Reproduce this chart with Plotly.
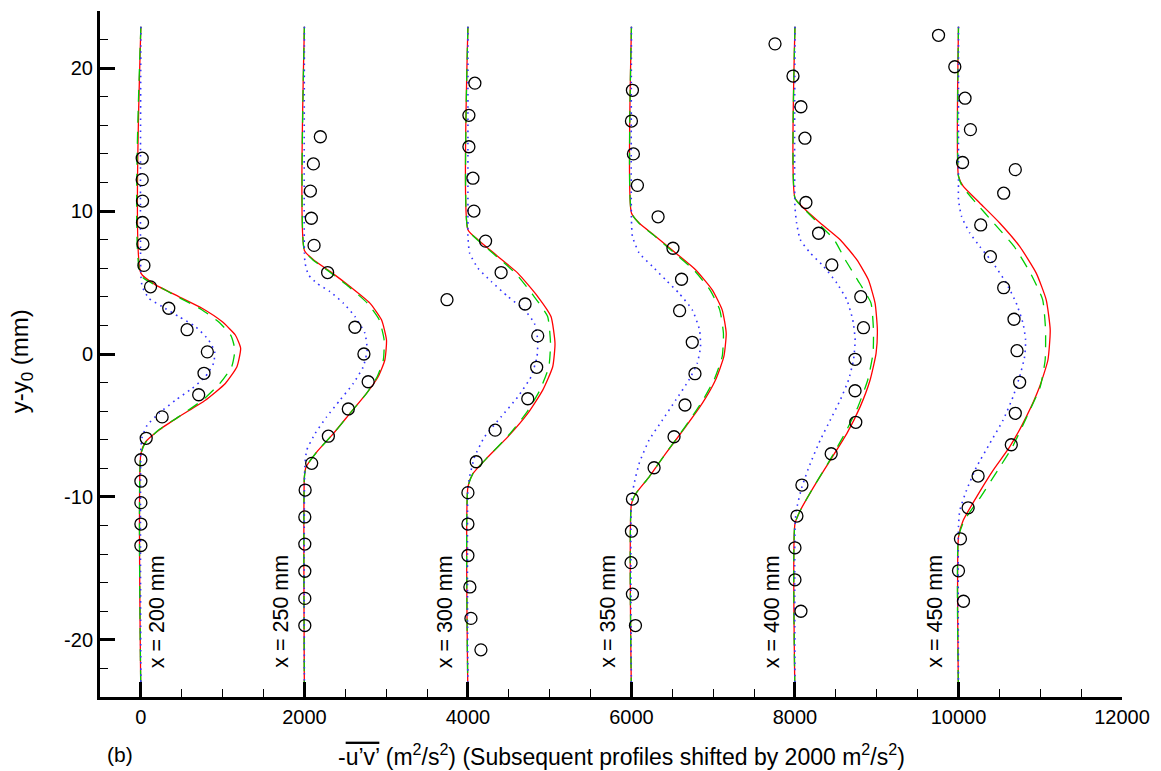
import plotly.graph_objects as go

# ---------------- data ----------------
stations = ["x = 200 mm", "x = 250 mm", "x = 300 mm", "x = 350 mm", "x = 400 mm", "x = 450 mm"]
shifts = [0, 2000, 4000, 6000, 8000, 10000]

# experimental points (unshifted -u'v', m^2/s^2) and y-y0 (mm)
exp_y_1 = [13.7, 12.2, 10.7, 9.2, 7.7, 6.2, 4.7, 3.2, 1.7, 0.15, -1.35, -2.85, -4.4, -5.9, -7.4, -8.9, -10.4, -11.9, -13.4]
exp_v_1 = [16, 16, 20, 20, 25, 37, 118, 341, 565, 813, 772, 707, 260, 65, 0, 0, 0, 0, 0]
exp_y_2 = [15.2, 13.3, 11.4, 9.5, 7.6, 5.7, 3.8, 1.87, 0, -1.94, -3.85, -5.75, -7.65, -9.52, -11.4, -13.3, -15.2, -17.1, -19.0]
exp_v_2 = [195, 110, 73, 85, 118, 284, 1744, 618, 728, 780, 537, 293, 89, 9, 5, 5, 5, 5, 5]
exp_y_3 = [18.95, 16.7, 14.5, 12.3, 10.0, 7.9, 5.7, 3.5, 1.27, -0.93, -3.13, -5.33, -7.54, -9.7, -11.9, -14.1, -16.3, -18.5, -20.7]
exp_v_3 = [85, 12, 12, 61, 73, 216, 406, 699, 854, 841, 732, 333, 101, 0, 0, 0, 24, 37, 159]
exp_y_4 = [18.45, 16.3, 14.0, 11.8, 9.6, 7.4, 5.23, 3.03, 0.82, -1.38, -3.57, -5.79, -7.96, -10.15, -12.4, -14.6, -16.8, -19.0]
exp_v_4 = [12, 0, 24, 73, 326, 508, 613, 589, 744, 777, 655, 521, 277, 12, 0, -5, 12, 49]
exp_y_5 = [21.7, 19.45, 17.3, 15.1, 12.9, 10.6, 8.45, 6.23, 4.01, 1.84, -0.37, -2.57, -4.78, -6.98, -9.17, -11.34, -13.56, -15.8, -18.0]
exp_v_5 = [-244, -24, 73, 122, 2695, 134, 289, 451, 805, 838, 735, 735, 744, 443, 85, 24, 0, 0, 73]
exp_y_6 = [22.3, 20.1, 17.9, 15.7, 13.4, 11.25, 9.03, 6.81, 4.64, 2.43, 0.23, -1.98, -4.15, -6.35, -8.54, -10.76, -12.93, -15.17, -17.3]
exp_v_6 = [-244, -45, 80, 146, 50, 553, 272, 390, 553, 679, 716, 748, 695, 646, 240, 118, 24, 0, 61]

# model A (red solid)
red_y_1 = [22.9, 5.66, 4.84, 4.02, 3.2, 2.27, 1.33, 0.4, -0.89, -2.06, -3.23, -4.4, -5.33, -6.15, -6.97, -24]
red_v_1 = [0, 0, 180, 463, 748, 992, 1155, 1220, 1175, 1033, 789, 463, 220, 57, 0, 0]
red_y_2 = [22.9, 7.25, 6.6, 5.78, 4.72, 3.56, 2.39, 0.98, -0.42, -1.59, -2.76, -4.16, -5.57, -6.86, -7.91, -8.6, -24]
red_v_2 = [0, 0, 110, 313, 557, 801, 943, 1004, 984, 902, 760, 557, 354, 150, 20, 0, 0]
red_y_3 = [22.9, 8.7, 8.0, 6.83, 5.66, 4.02, 2.62, 0.75, -0.89, -2.53, -4.16, -5.8, -7.21, -8.37, -9.3, -24]
red_v_3 = [0, 0, 122, 366, 610, 854, 1016, 1065, 1037, 915, 732, 488, 244, 61, 0, 0]
red_y_4 = [22.9, 9.87, 9.17, 8.23, 7.07, 5.9, 4.49, 3.09, 1.45, -0.19, -1.82, -3.46, -5.1, -6.97, -8.61, -9.78, -10.48, -24]
red_v_4 = [0, 0, 94, 297, 541, 784, 988, 1110, 1159, 1130, 1028, 866, 662, 418, 215, 52, 0, 0]
red_y_5 = [22.9, 10.92, 10.22, 9.17, 8.0, 6.6, 5.19, 3.56, 1.68, 0.05, -1.82, -3.7, -5.57, -7.44, -9.31, -10.95, -11.88, -24]
red_v_5 = [0, 0, 106, 309, 553, 756, 898, 980, 1008, 992, 919, 797, 634, 431, 228, 65, 0, 0]
red_y_6 = [22.9, 12.44, 11.74, 10.57, 9.17, 7.53, 5.66, 3.79, 1.68, -0.42, -2.29, -4.4, -6.5, -8.14, -10.01, -11.65, -12.82, -24]
red_v_6 = [0, 0, 57, 260, 504, 748, 951, 1073, 1122, 1094, 992, 829, 626, 423, 220, 57, 0, 0]

# model B (green dashed)
green_y_1 = [22.9, 5.5, 4.6, 4.0, 3.1, 2.2, 1.3, 0.3, -0.9, -2.1, -3.2, -4.4, -5.3, -6.2, -7.0, -24]
green_v_1 = [0, 0, 260, 450, 745, 960, 1100, 1150, 1110, 960, 760, 460, 220, 57, 0, 0]
green_y_2 = red_y_2
green_v_2 = [0, 0, 100, 300, 540, 770, 915, 975, 965, 890, 760, 557, 354, 150, 20, 0, 0]
green_y_3 = red_y_3
green_v_3 = [0, 0, 115, 350, 580, 810, 975, 1010, 990, 880, 710, 480, 244, 61, 0, 0]
green_y_4 = red_y_4
green_v_4 = [0, 0, 90, 290, 525, 760, 960, 1080, 1125, 1110, 1010, 850, 655, 418, 215, 52, 0, 0]
green_y_5 = red_y_5
green_v_5 = [0, 0, 100, 280, 480, 615, 765, 930, 960, 955, 890, 770, 610, 425, 228, 65, 0, 0]
green_y_6 = red_y_6
green_v_6 = [0, 0, 45, 215, 430, 680, 880, 1030, 1065, 1060, 1000, 835, 660, 480, 270, 70, 0, 0]

# model C (blue dotted)
blue_y_1 = [22.9, 5.5, 4.72, 3.9, 3.32, 2.62, 1.92, 0.98, 0.16, -0.63, -1.59, -2.41, -3.23, -4.16, -4.98, -5.8, -6.6, -24]
blue_v_1 = [0, 0, 16, 98, 260, 463, 667, 829, 902, 890, 789, 626, 423, 220, 77, 16, 0, 0]
blue_y_2 = [22.9, 7.1, 6.37, 5.54, 4.96, 4.37, 3.56, 2.62, 1.45, 0.28, -0.89, -2.06, -3.23, -4.4, -5.57, -6.74, -7.9, -24]
blue_v_2 = [0, 0, 8, 49, 150, 313, 476, 618, 740, 768, 720, 598, 435, 272, 130, 28, 5, 0]
blue_y_3 = [22.9, 8.9, 8.23, 7.07, 6.01, 5.08, 4.02, 3.09, 2.15, 0.98, -0.19, -1.59, -3.0, -4.4, -5.8, -7.21, -8.61, -9.4, -24]
blue_v_3 = [0, 0, 0, 20, 122, 284, 488, 691, 813, 854, 845, 772, 610, 406, 203, 81, 20, 0, 0]
blue_y_4 = [22.9, 9.4, 8.23, 7.07, 6.13, 5.19, 4.26, 3.09, 1.68, 0.51, -0.65, -1.82, -3.23, -4.63, -6.03, -7.67, -9.07, -10.25, -24]
blue_v_4 = [0, 0, 12, 94, 256, 418, 581, 744, 833, 845, 805, 703, 541, 378, 215, 94, 33, 0, 0]
blue_y_5 = [22.9, 10.3, 9.17, 8.0, 7.07, 6.13, 4.96, 3.79, 2.39, 0.98, -0.42, -1.82, -3.23, -4.63, -6.03, -7.67, -9.31, -10.95, -12.2, -24]
blue_v_5 = [0, 0, 20, 65, 187, 350, 512, 634, 707, 736, 716, 655, 553, 431, 309, 187, 85, 16, 0, 0]
blue_y_6 = [22.9, 11.98, 10.8, 9.63, 8.47, 7.53, 6.36, 4.96, 3.56, 2.15, 0.98, -0.19, -1.59, -3.0, -4.63, -6.27, -7.91, -9.54, -10.95, -12.1, -24]
blue_v_6 = [0, 0, 0, 37, 138, 260, 423, 585, 707, 789, 821, 809, 748, 667, 545, 382, 220, 98, 16, 0, 0]

x_tickvals = [0, 2000, 4000, 6000, 8000, 10000, 12000]
x_ticktext = ["0", "2000", "4000", "6000", "8000", "10000", "12000"]
y_tickvals = [-20, -10, 0, 10, 20]
y_ticktext = ["-20", "-10", "0", "10", "20"]

# ---------------- figure ----------------
FONT = "Liberation Sans, Arial, sans-serif"
fig = go.Figure()

exp_y = [exp_y_1, exp_y_2, exp_y_3, exp_y_4, exp_y_5, exp_y_6]
exp_v = [exp_v_1, exp_v_2, exp_v_3, exp_v_4, exp_v_5, exp_v_6]
red_y = [red_y_1, red_y_2, red_y_3, red_y_4, red_y_5, red_y_6]
red_v = [red_v_1, red_v_2, red_v_3, red_v_4, red_v_5, red_v_6]
green_y = [green_y_1, green_y_2, green_y_3, green_y_4, green_y_5, green_y_6]
green_v = [green_v_1, green_v_2, green_v_3, green_v_4, green_v_5, green_v_6]
blue_y = [blue_y_1, blue_y_2, blue_y_3, blue_y_4, blue_y_5, blue_y_6]
blue_v = [blue_v_1, blue_v_2, blue_v_3, blue_v_4, blue_v_5, blue_v_6]

for i, s in enumerate(shifts):
    fig.add_trace(go.Scatter(
        x=[v + s for v in red_v[i]], y=red_y[i], mode="lines",
        line=dict(color="#ff0000", width=1.3, shape="spline", smoothing=0.5),
        showlegend=False, hoverinfo="skip"))
    fig.add_trace(go.Scatter(
        x=[v + s for v in green_v[i]], y=green_y[i], mode="lines",
        line=dict(color="#00cc00", width=1.3, dash="12px,9px", shape="spline", smoothing=0.5),
        showlegend=False, hoverinfo="skip"))
    fig.add_trace(go.Scatter(
        x=[v + s for v in blue_v[i]], y=blue_y[i], mode="lines",
        line=dict(color="#3333ff", width=1.6, dash="1.6px,4.5px", shape="spline", smoothing=0.5),
        showlegend=False, hoverinfo="skip"))
    fig.add_trace(go.Scatter(
        x=[v + s for v in exp_v[i]], y=exp_y[i], mode="markers",
        marker=dict(symbol="circle-open", size=12, color="black", line=dict(width=1.3, color="black")),
        showlegend=False, hoverinfo="skip", cliponaxis=False))

# station labels
for i, s in enumerate(shifts):
    fig.add_annotation(
        x=s, y=-22.1, xref="x", yref="y", text=stations[i], showarrow=False,
        textangle=-90, xanchor="center", yanchor="bottom",
        xshift=16 if i == 0 else -23,
        font=dict(family=FONT, size=21.5, color="black"))

xtitle = ('-<span style="text-decoration:overline">u’v’</span> (m<sup>2</sup>/s<sup>2</sup>) '
          '(Subsequent profiles shifted by 2000 m<sup>2</sup>/s<sup>2</sup>)')
fig.add_annotation(x=0.510, y=-0.084, xref="paper", yref="paper", text=xtitle,
                   showarrow=False, xanchor="center", yanchor="middle",
                   font=dict(family=FONT, size=23, color="black"))
fig.add_annotation(x=0.005, y=-0.084, xref="paper", yref="paper", text="(b)",
                   showarrow=False, xanchor="left", yanchor="middle",
                   font=dict(family=FONT, size=21, color="black"))
fig.add_annotation(x=-0.076, y=0.49, xref="paper", yref="paper",
                   text="y-y<sub>0</sub> (mm)", textangle=-90,
                   showarrow=False, xanchor="center", yanchor="middle",
                   font=dict(family=FONT, size=24, color="black"))

fig.update_layout(
    width=1161, height=771,
    margin=dict(l=100, r=36, t=11, b=74),
    paper_bgcolor="white", plot_bgcolor="white",
    font=dict(family=FONT, size=20, color="black"),
    xaxis=dict(range=[-500, 12000], showgrid=False, zeroline=False,
               showline=True, linewidth=3, linecolor="black",
               ticks="inside", ticklen=15, tickwidth=3, tickcolor="black",
               tickmode="array", tickvals=x_tickvals, ticktext=x_ticktext,
               tickfont=dict(family=FONT, size=20, color="black"),
               minor=dict(ticks="inside", ticklen=8, tickwidth=1.2, tickcolor="black",
                          dtick=500, tick0=0, showgrid=False)),
    yaxis=dict(range=[-24, 24], showgrid=False, zeroline=False,
               showline=True, linewidth=3, linecolor="black",
               ticks="inside", ticklen=15, tickwidth=3, tickcolor="black",
               tickmode="array", tickvals=y_tickvals, ticktext=y_ticktext,
               tickfont=dict(family=FONT, size=20, color="black"),
               minor=dict(ticks="inside", ticklen=8, tickwidth=1.2, tickcolor="black",
                          dtick=2, tick0=0, showgrid=False)),
)

fig.write_html("out.html")
